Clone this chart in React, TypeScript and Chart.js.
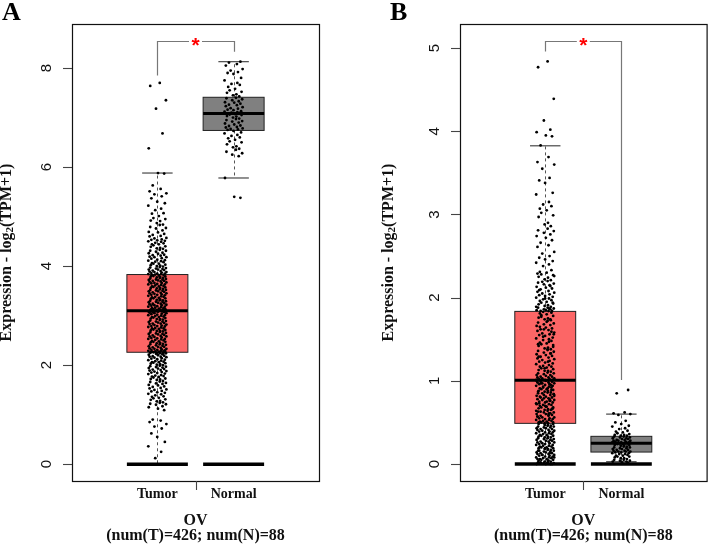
import React, { useEffect, useRef } from "react";
import { Chart, registerables } from "chart.js";
Chart.register(...registerables);

const categories = ["Tumor", "Normal"];
const cohortName = "OV";
const cohortCounts = "(num(T)=426; num(N)=88";
const panelLetters = ["A", "B"];
const yTitleMain = "Expression - log";
const yTitleSub = "2";
const yTitleEnd = "(TPM+1)";

// Panel A tick labels and y range
const yTicksA = [0, 2, 4, 6, 8];
const yRangeA = [-0.34, 8.89];
// Panel B tick labels and y range
const yTicksB = [0, 1, 2, 3, 4, 5];
const yRangeB = [-0.204, 5.29];
const xRange = [-0.12, 3.12];

// [lower whisker, Q1, median, Q3, upper whisker]
const boxTumorA = [0, 2.26, 3.1, 3.83, 5.88];
const boxNormalA = [5.78, 6.74, 7.08, 7.41, 8.13];
const boxTumorB = [0, 0.489, 1.006, 1.835, 3.826];
const boxNormalB = [0.028, 0.144, 0.249, 0.333, 0.6];

// significance bracket: [tumor-side start, top, normal-side end]
const bracketA = [7.85, 8.55, 8.33];
const bracketB = [4.96, 5.08, 1.01];

// horizontal jitter offsets (category units), cycled over points
const jitter = [0.031, -0.094, 0.112, -0.018, 0.067, -0.113, 0.008, 0.089, -0.061, 0.043, -0.102, 0.118, -0.039, 0.057, -0.079, -0.002, 0.098, -0.119, 0.049, -0.028, 0.081, -0.071, 0.019, -0.052, 0.104, -0.087, 0.036, -0.008, 0.073];

const tumorA = [
  7.70, 7.64, 7.35, 7.18, 6.68, 6.38,
  5.88, 5.87, 5.63, 5.56, 5.51, 5.47, 5.45, 5.41, 5.37, 5.30, 5.27, 5.22,
  5.16, 5.13, 5.07, 5.06, 5.01, 4.97, 4.95, 4.92, 4.91, 4.87, 4.84, 4.83, 4.79, 4.77, 4.76, 4.72, 4.69, 4.68, 4.65, 4.63, 4.61, 4.60, 4.57, 4.56, 4.54, 4.53, 4.52, 4.51, 4.50, 4.49,
  4.47, 4.46, 4.44, 4.44, 4.42, 4.40, 4.39, 4.37, 4.36, 4.35, 4.33, 4.31, 4.31, 4.29, 4.27, 4.26, 4.25, 4.23, 4.22, 4.21,
  4.19, 4.18, 4.18, 4.16, 4.15, 4.13, 4.12, 4.11, 4.10, 4.09, 4.08, 4.06, 4.05, 4.05, 4.03, 4.02, 4.01, 4.00, 3.99, 3.98,
  3.97, 3.96, 3.95, 3.94, 3.93, 3.93, 3.92, 3.91, 3.90, 3.89, 3.88, 3.88, 3.87, 3.86, 3.85, 3.85, 3.84, 3.84,
  3.83, 3.82, 3.82, 3.81, 3.80, 3.79, 3.79, 3.78, 3.77, 3.76, 3.76, 3.75, 3.74, 3.73, 3.73, 3.72, 3.71, 3.70, 3.70, 3.69,
  3.68, 3.67, 3.66, 3.66, 3.65, 3.64, 3.63, 3.63, 3.62, 3.61, 3.60, 3.59, 3.59, 3.58, 3.57, 3.56, 3.56, 3.55, 3.54, 3.53,
  3.52, 3.52, 3.51, 3.50, 3.49, 3.49, 3.48, 3.47, 3.46, 3.45, 3.45, 3.44, 3.43, 3.42, 3.42, 3.41, 3.40, 3.39, 3.38, 3.38,
  3.37, 3.36, 3.35, 3.35, 3.34, 3.33, 3.32, 3.31, 3.31, 3.30, 3.29, 3.28, 3.28, 3.27, 3.26, 3.25, 3.24, 3.24, 3.23, 3.22,
  3.21, 3.21, 3.20, 3.19, 3.18, 3.18, 3.17, 3.16, 3.15, 3.15, 3.14, 3.13, 3.13, 3.12, 3.12, 3.11, 3.11, 3.10, 3.10, 3.10,
  3.09, 3.09, 3.08, 3.08, 3.07, 3.07, 3.10,
  3.06, 3.05, 3.05, 3.04, 3.03, 3.02, 3.01, 3.01, 3.00, 2.99, 2.98, 2.97, 2.97, 2.96, 2.95, 2.94, 2.93, 2.93, 2.92, 2.91,
  2.90, 2.89, 2.88, 2.88, 2.87, 2.86, 2.85, 2.84, 2.84, 2.83, 2.82, 2.81, 2.80, 2.79, 2.79, 2.78, 2.77, 2.76, 2.75, 2.74,
  2.74, 2.73, 2.72, 2.71, 2.70, 2.69, 2.69, 2.68, 2.67, 2.66, 2.65, 2.64, 2.63, 2.63, 2.62, 2.61, 2.60, 2.59, 2.58, 2.58,
  2.57, 2.56, 2.55, 2.54, 2.53, 2.53, 2.52, 2.51, 2.50, 2.49, 2.48, 2.47, 2.47, 2.46, 2.45, 2.44, 2.43, 2.42, 2.42, 2.41,
  2.40, 2.39, 2.38, 2.37, 2.37, 2.36, 2.35, 2.34, 2.33, 2.33, 2.32, 2.31, 2.31, 2.30, 2.29, 2.29, 2.28, 2.28, 2.27, 2.27,
  2.26, 2.26, 2.26, 2.25, 2.25, 2.24, 2.24,
  2.25, 2.24, 2.23, 2.22, 2.21, 2.20, 2.19, 2.18, 2.17, 2.17, 2.16, 2.15, 2.14, 2.13, 2.12, 2.11, 2.10, 2.09, 2.08, 2.07,
  2.06, 2.06, 2.05, 2.04, 2.03, 2.02, 2.01, 2.00, 1.99, 1.98, 1.97, 1.96, 1.95, 1.94, 1.93, 1.92, 1.91, 1.90, 1.89, 1.88,
  1.87, 1.86, 1.85, 1.84, 1.83, 1.82, 1.80, 1.79, 1.78, 1.77, 1.76, 1.75, 1.73, 1.72, 1.71, 1.70, 1.68, 1.67, 1.66, 1.64,
  1.63, 1.62, 1.60, 1.59, 1.57, 1.56, 1.54, 1.53, 1.51, 1.50, 1.48, 1.47, 1.45, 1.44, 1.42, 1.41, 1.39, 1.37, 1.36, 1.34,
  1.33, 1.31, 1.30, 1.28, 1.27, 1.25, 1.24, 1.22, 1.21, 1.20, 1.17, 1.15, 1.12, 1.09,
  0.90, 0.88, 0.85, 0.81, 0.76, 0.72, 0.62, 0.55, 0.45, 0.36, 0.25, 0.12,
];

const normalA = [
  8.13, 8.11, 8.08, 8.05, 7.98, 7.95, 7.92, 7.90, 7.88, 7.80, 7.75, 7.70, 7.68, 7.66, 7.62, 7.58, 7.55, 7.52, 7.50, 7.47, 7.45, 7.43,
  7.40, 7.39, 7.37, 7.35, 7.33, 7.31, 7.30, 7.28, 7.26, 7.25, 7.23, 7.21, 7.19, 7.18, 7.16, 7.15, 7.13, 7.12, 7.11, 7.10, 7.09, 7.08,
  7.07, 7.06, 7.05, 7.03, 7.02, 7.00, 6.98, 6.97, 6.95, 6.93, 6.92, 6.90, 6.88, 6.86, 6.84, 6.83, 6.81, 6.80, 6.78, 6.77, 6.76, 6.75,
  6.73, 6.70, 6.68, 6.65, 6.63, 6.60, 6.58, 6.55, 6.52, 6.50, 6.46, 6.42, 6.40, 6.37, 6.35, 6.31, 6.28, 6.25, 6.22, 5.78, 5.40, 5.38,
];

const tumorB = [
  4.84, 4.77, 4.39, 4.13, 4.02, 3.99, 3.95, 3.94, 3.83, 3.69, 3.63, 3.60, 3.55, 3.44, 3.41, 3.38, 3.26, 3.24, 3.15, 3.12,
  3.10, 3.07, 3.05, 3.02, 2.99, 2.97, 2.90, 2.88, 2.86, 2.83, 2.81, 2.80, 2.78, 2.76, 2.74, 2.72, 2.69, 2.66, 2.63, 2.61,
  2.55, 2.53, 2.50, 2.48, 2.46, 2.44, 2.42, 2.40, 2.38,
  2.33, 2.31, 2.30, 2.28, 2.27, 2.25, 2.24, 2.22, 2.21, 2.20, 2.18, 2.17, 2.16, 2.14, 2.13, 2.12, 2.11, 2.10, 2.08, 2.07,
  2.06, 2.05, 2.04, 2.03, 2.02, 2.01, 2.00, 1.99, 1.98, 1.97, 1.96, 1.95, 1.94, 1.93, 1.92, 1.91, 1.90, 1.89, 1.88, 1.88,
  1.87, 1.86, 1.86, 1.85, 1.85, 1.84, 1.84, 1.84, 2.29, 2.26, 2.19, 2.15, 2.09, 1.99, 1.94, 1.89, 1.87,
  1.83, 1.82, 1.81, 1.80, 1.79, 1.78, 1.76, 1.75, 1.74, 1.73, 1.72, 1.70, 1.69, 1.68, 1.67, 1.66, 1.64, 1.63, 1.62, 1.61,
  1.60, 1.58, 1.57, 1.56, 1.55, 1.54, 1.52, 1.51, 1.50, 1.49, 1.48, 1.46, 1.45, 1.44, 1.43, 1.42, 1.40, 1.39, 1.38, 1.37,
  1.36, 1.35, 1.34, 1.33, 1.32, 1.31, 1.30, 1.29, 1.28, 1.27, 1.26, 1.25, 1.24, 1.23, 1.22, 1.21, 1.20, 1.19, 1.18, 1.17,
  1.17, 1.16, 1.15, 1.14, 1.13, 1.12, 1.12, 1.11, 1.10, 1.09, 1.09, 1.08, 1.07, 1.07, 1.06, 1.05, 1.05, 1.04, 1.04, 1.03,
  1.03, 1.02, 1.02, 1.01, 1.01, 1.01, 1.47, 1.53, 1.59, 1.65, 1.71, 1.77, 1.41, 1.29, 1.23, 1.15, 1.33, 1.38, 1.44, 1.56,
  1.62, 1.74,
  1.00, 1.00, 0.99, 0.99, 0.98, 0.98, 0.97, 0.97, 0.96, 0.96, 0.95, 0.94, 0.94, 0.93, 0.92, 0.92, 0.91, 0.90, 0.90, 0.89,
  0.88, 0.88, 0.87, 0.86, 0.86, 0.85, 0.84, 0.83, 0.83, 0.82, 0.81, 0.80, 0.80, 0.79, 0.78, 0.77, 0.77, 0.76, 0.75, 0.74,
  0.74, 0.73, 0.72, 0.71, 0.71, 0.70, 0.69, 0.68, 0.68, 0.67, 0.66, 0.65, 0.65, 0.64, 0.63, 0.62, 0.62, 0.61, 0.60, 0.60,
  0.59, 0.58, 0.58, 0.57, 0.56, 0.56, 0.55, 0.55, 0.54, 0.54, 0.53, 0.53, 0.52, 0.52, 0.51, 0.51, 0.50, 0.50, 0.50, 0.49,
  0.49, 0.95, 0.91, 0.87, 0.84, 0.79, 0.76, 0.72, 0.69, 0.66, 0.63, 0.59, 0.57, 0.82, 0.85, 0.78, 0.73, 0.70, 0.67, 0.64,
  0.61, 0.93, 0.89, 0.81, 0.75, 0.97,
  0.48, 0.48, 0.47, 0.47, 0.46, 0.46, 0.45, 0.45, 0.44, 0.44, 0.43, 0.43, 0.42, 0.42, 0.41, 0.41, 0.40, 0.40, 0.39, 0.39,
  0.38, 0.38, 0.37, 0.37, 0.36, 0.36, 0.35, 0.35, 0.34, 0.34, 0.33, 0.33, 0.32, 0.32, 0.31, 0.31, 0.30, 0.30, 0.29, 0.29,
  0.28, 0.28, 0.27, 0.27, 0.26, 0.26, 0.25, 0.25, 0.24, 0.24, 0.23, 0.23, 0.22, 0.22, 0.21, 0.21, 0.20, 0.20, 0.19, 0.19,
  0.18, 0.18, 0.17, 0.17, 0.16, 0.16, 0.15, 0.15, 0.14, 0.14, 0.13, 0.13, 0.12, 0.12, 0.11, 0.11, 0.10, 0.10, 0.09, 0.09,
  0.08, 0.08, 0.07, 0.07, 0.06, 0.06, 0.05, 0.05, 0.04, 0.04, 0.03, 0.03, 0.02, 0.02, 0.01, 0.01, 0.00, 0.00, 0.00, 0.00,
  0.02, 0.04, 0.06, 0.08, 0.11, 0.13, 0.16, 0.19,
];

const normalB = [
  0.89, 0.85, 0.62, 0.61, 0.60, 0.59, 0.52, 0.50, 0.48, 0.46, 0.45, 0.43, 0.42, 0.40, 0.39, 0.38, 0.37, 0.36, 0.35, 0.35, 0.34, 0.34,
  0.33, 0.33, 0.32, 0.32, 0.31, 0.31, 0.30, 0.30, 0.29, 0.29, 0.28, 0.28, 0.28, 0.27, 0.27, 0.26, 0.26, 0.26, 0.25, 0.25, 0.25, 0.25,
  0.24, 0.24, 0.23, 0.23, 0.22, 0.22, 0.21, 0.21, 0.20, 0.20, 0.19, 0.19, 0.18, 0.18, 0.17, 0.17, 0.16, 0.16, 0.15, 0.15, 0.15, 0.14,
  0.14, 0.13, 0.13, 0.12, 0.12, 0.11, 0.10, 0.10, 0.09, 0.09, 0.08, 0.07, 0.07, 0.06, 0.05, 0.05, 0.04, 0.04, 0.03, 0.03, 0.02, 0.01,
];

const SERIF = '"Liberation Serif", "Times New Roman", serif';
const SANS = '"Liberation Sans", Arial, sans-serif';
const BOX_FILL = ["#FC6666", "#808080"];

type Panel = {
  letter: string;
  groups: number[][];
  boxes: number[][];
  ticks: number[];
  bracket: number[];
  yRange: number[];
  padLeft: number;
  padRight: number;
  titleX: number;
  letterX: number;
};

const panels: Panel[] = [
  {
    letter: panelLetters[0],
    groups: [tumorA, normalA],
    boxes: [boxTumorA, boxNormalA],
    ticks: yTicksA,
    bracket: bracketA,
    yRange: yRangeA,
    padLeft: 72,
    padRight: 35,
    titleX: 11,
    letterX: 2,
  },
  {
    letter: panelLetters[1],
    groups: [tumorB, normalB],
    boxes: [boxTumorB, boxNormalB],
    ticks: yTicksB,
    bracket: bracketB,
    yRange: yRangeB,
    padLeft: 106,
    padRight: 1,
    titleX: 39,
    letterX: 36,
  },
];

function makePlugin(p: Panel) {
  const seg = (ctx: CanvasRenderingContext2D, x1: number, y1: number, x2: number, y2: number) => {
    ctx.beginPath();
    ctx.moveTo(x1, y1);
    ctx.lineTo(x2, y2);
    ctx.stroke();
  };
  return {
    id: "boxplot" + p.letter,
    beforeDatasetsDraw(chart: any) {
      const ctx: CanvasRenderingContext2D = chart.ctx;
      const x = chart.scales.x;
      const y = chart.scales.y;
      ctx.save();
      p.boxes.forEach((b, i) => {
        const c = i + 1;
        const xl = x.getPixelForValue(c - 0.4);
        const xr = x.getPixelForValue(c + 0.4);
        const xc = Math.round(x.getPixelForValue(c)) + 0.5;
        const cl = x.getPixelForValue(c - 0.2);
        const cr = x.getPixelForValue(c + 0.2);
        const [lo, q1, med, q3, hi] = b.map((v) => y.getPixelForValue(v));
        ctx.strokeStyle = "#555";
        ctx.lineWidth = 1;
        ctx.setLineDash([3, 3]);
        seg(ctx, xc, q3, xc, hi);
        seg(ctx, xc, q1, xc, lo);
        ctx.setLineDash([]);
        ctx.strokeStyle = "#555";
        ctx.lineWidth = 1.3;
        seg(ctx, cl, hi, cr, hi);
        seg(ctx, cl, lo, cr, lo);
        ctx.fillStyle = BOX_FILL[i];
        ctx.fillRect(xl, q3, xr - xl, q1 - q3);
        ctx.strokeStyle = "#222";
        ctx.lineWidth = 1;
        ctx.strokeRect(xl, q3, xr - xl, q1 - q3);
        ctx.strokeStyle = "#000";
        ctx.lineWidth = 3;
        seg(ctx, xl, med, xr, med);
      });
      ctx.restore();
    },
    afterDatasetsDraw(chart: any) {
      const ctx: CanvasRenderingContext2D = chart.ctx;
      const a = chart.chartArea;
      const x = chart.scales.x;
      const y = chart.scales.y;
      ctx.save();
      // zero bars
      p.boxes.forEach((_b, i) => {
        const c = i + 1;
        ctx.strokeStyle = "#000";
        ctx.lineWidth = 3.5;
        seg(ctx, x.getPixelForValue(c - 0.4), y.getPixelForValue(0), x.getPixelForValue(c + 0.4), y.getPixelForValue(0));
      });
      // significance bracket
      const [bs, bt, be] = p.bracket;
      const x1 = Math.round(x.getPixelForValue(1)) + 0.5;
      const x2 = Math.round(x.getPixelForValue(2)) + 0.5;
      const xm = x.getPixelForValue(1.5);
      const yt = Math.round(y.getPixelForValue(bt)) + 0.5;
      ctx.strokeStyle = "#777";
      ctx.lineWidth = 1.2;
      ctx.beginPath();
      ctx.moveTo(x1, y.getPixelForValue(bs));
      ctx.lineTo(x1, yt);
      ctx.lineTo(xm - 6.5, yt);
      ctx.moveTo(xm + 6.5, yt);
      ctx.lineTo(x2, yt);
      ctx.lineTo(x2, y.getPixelForValue(be));
      ctx.stroke();
      ctx.fillStyle = "#FF0000";
      ctx.font = "bold 21px " + SANS;
      ctx.textAlign = "center";
      ctx.textBaseline = "alphabetic";
      const m = ctx.measureText("*");
      const mid = (m.actualBoundingBoxAscent - m.actualBoundingBoxDescent) / 2;
      ctx.fillText("*", xm, yt + mid);
      // frame
      ctx.strokeStyle = "#111";
      ctx.lineWidth = 1.2;
      ctx.strokeRect(a.left + 0.5, a.top + 0.5, a.right - a.left, a.bottom - a.top);
      // y ticks
      ctx.strokeStyle = "#444";
      ctx.lineWidth = 1.1;
      ctx.fillStyle = "#111";
      ctx.font = "15px " + SANS;
      p.ticks.forEach((t) => {
        const py = Math.round(y.getPixelForValue(t)) + 0.5;
        seg(ctx, a.left - 9, py, a.left, py);
        ctx.save();
        ctx.translate(a.left - 21, y.getPixelForValue(t));
        ctx.rotate(-Math.PI / 2);
        ctx.textAlign = "center";
        ctx.textBaseline = "alphabetic";
        ctx.fillText(String(t), 0, 0);
        ctx.restore();
      });
      // x tick between categories
      const xt = Math.round(x.getPixelForValue(1.5)) + 0.5;
      seg(ctx, xt, a.bottom, xt, a.bottom + 9);
      // category labels
      ctx.fillStyle = "#111";
      ctx.textAlign = "center";
      ctx.textBaseline = "alphabetic";
      ctx.font = "bold 14px " + SERIF;
      categories.forEach((c, i) => ctx.fillText(c, x.getPixelForValue(i + 1), 498));
      ctx.font = "bold 16px " + SERIF;
      ctx.fillText(cohortName, xm, 525);
      ctx.fillText(cohortCounts, xm, 540);
      // y title
      const big = "bold 16px " + SERIF;
      const small = "bold 11px " + SERIF;
      ctx.save();
      ctx.translate(p.titleX, (a.top + a.bottom) / 2);
      ctx.rotate(-Math.PI / 2);
      ctx.textAlign = "left";
      ctx.font = big;
      const w1 = ctx.measureText(yTitleMain).width;
      const w3 = ctx.measureText(yTitleEnd).width;
      ctx.font = small;
      const w2 = ctx.measureText(yTitleSub).width;
      let sx = -(w1 + w2 + w3) / 2;
      ctx.font = big;
      ctx.fillText(yTitleMain, sx, 0);
      sx += w1;
      ctx.font = small;
      ctx.fillText(yTitleSub, sx, 2);
      sx += w2;
      ctx.font = big;
      ctx.fillText(yTitleEnd, sx, 0);
      ctx.restore();
      // panel letter
      ctx.fillStyle = "#000";
      ctx.textAlign = "left";
      ctx.font = "bold 26px " + SERIF;
      ctx.fillText(p.letter, p.letterX, 20);
      ctx.restore();
    },
  };
}

function BoxPanel({ p }: { p: Panel }) {
  const ref = useRef<HTMLCanvasElement | null>(null);
  useEffect(() => {
    if (!ref.current) return;
    const datasets = p.groups.map((vals, gi) => ({
      data: vals.map((v, i) => ({ x: gi + 1 + jitter[(i + gi * 7) % jitter.length], y: v })),
      pointRadius: 1.4,
      pointHoverRadius: 1.4,
      backgroundColor: "#000",
      borderColor: "#000",
      borderWidth: 0,
    }));
    const chart = new Chart(ref.current, {
      type: "scatter",
      data: { datasets },
      options: {
        animation: false,
        responsive: false,
        devicePixelRatio: 1,
        events: [],
        layout: { padding: { left: p.padLeft, right: p.padRight, top: 24, bottom: 65 } },
        plugins: { legend: { display: false }, tooltip: { enabled: false } },
        scales: {
          x: { type: "linear", min: xRange[0], max: xRange[1], display: false },
          y: { type: "linear", min: p.yRange[0], max: p.yRange[1], display: false },
        },
      },
      plugins: [makePlugin(p)],
    } as any);
    return () => chart.destroy();
  }, [p]);
  return <canvas ref={ref} width={354} height={546} style={{ display: "block", width: 354, height: 546 }} />;
}

export default function App() {
  return (
    <div style={{ position: "absolute", left: 0, top: 0, width: 708, height: 546, display: "flex", background: "#fff" }}>
      {panels.map((p) => (
        <BoxPanel key={p.letter} p={p} />
      ))}
    </div>
  );
}
